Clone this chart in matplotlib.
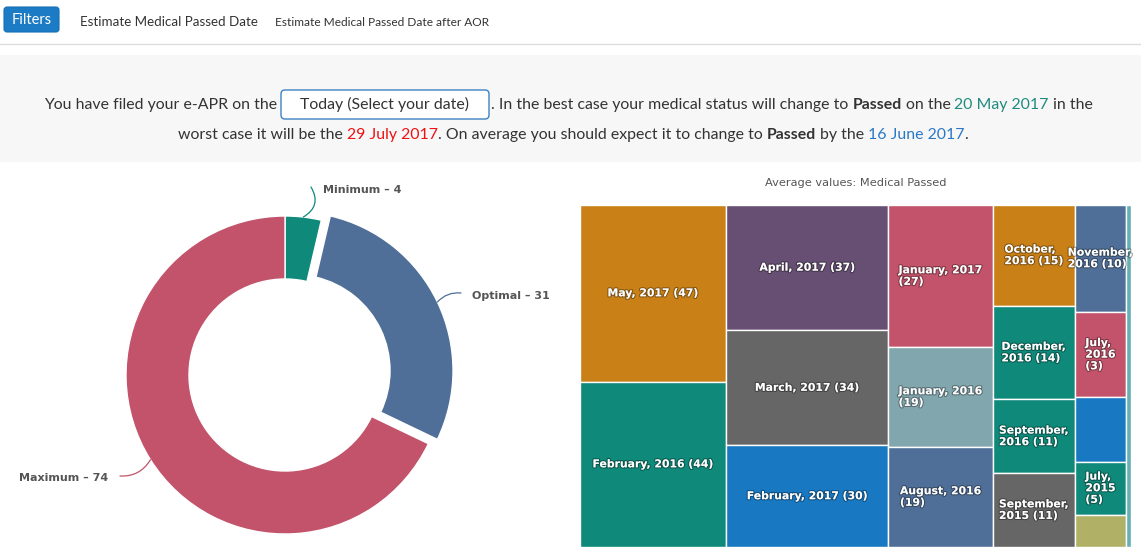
import matplotlib.pyplot as plt
from matplotlib.patches import Rectangle, FancyBboxPatch
import matplotlib.patheffects as pe
import numpy as np

W, H = 1141, 558

# donut: estimated days until medical passed
donut_labels = ['Minimum', 'Optimal', 'Maximum']
donut_values = [4, 31, 74]
donut_colors = ['#0e897a', '#4f6f98', '#c2536a']
donut_explode = [0, 10, 0]

# treemap: average values per month (text as shown on the tiles)
tm_labels = ['May, 2017 (47)', 'February, 2016 (44)',
             'April, 2017 (37)', 'March, 2017 (34)', 'February, 2017 (30)',
             'January, 2017\n(27)', 'January, 2016\n(19)', 'August, 2016\n(19)',
             'October,\n2016 (15)', 'December,\n2016 (14)', 'September,\n2016 (11)', 'September,\n2015 (11)',
             'November,\n2016 (10)', 'July,\n2016\n(3)', '', 'July,\n2015\n(5)', '',
             '']
tm_values = [47, 44,
             37, 34, 30,
             27, 19, 19,
             15, 14, 11, 11,
             10, 8, 6, 5, 3,
             3]
tm_colors = ['#c98016', '#0e897a',
             '#664f72', '#666666', '#1878c2',
             '#c2536a', '#82a6ae', '#4f6f98',
             '#c98016', '#0e897a', '#0e897a', '#666666',
             '#4f6f98', '#c2536a', '#1878c2', '#0e897a', '#b0b167',
             '#66b0b5']
tm_columns = [2, 3, 3, 4, 5, 1]   # how many tiles go in each column

TEXT_FONT = ['Lato', 'DejaVu Sans']
FS = 11.4


def Y(y):
    # page pixel rows are counted from the top
    return H - y


fig = plt.figure(figsize=(W / 100, H / 100), dpi=100)
ax = fig.add_axes([0, 0, 1, 1])

# --- donut ---
R = 159
cx, cy = 285, Y(375)
ax.pie(donut_values, colors=donut_colors, explode=donut_explode, startangle=90,
       counterclock=False, radius=R, center=(cx, cy),
       wedgeprops=dict(width=63, edgecolor='white', linewidth=1))
ax.set_xlim(0, W)
ax.set_ylim(0, H)
ax.set_aspect('auto')
ax.axis('off')

total = sum(donut_values)
cum = np.cumsum(donut_values)
label_pos = [(323, 190, 'left', (311, 187), -0.5),
             (472, 296, 'left', (461, 293), 0.25),
             (108, 478, 'right', (120, 476), 0.3)]
for i, name in enumerate(donut_labels):
    th = np.deg2rad(360 * (cum[i] - donut_values[i] / 2) / total)
    r = R + donut_explode[i]
    anchor = (cx + r * np.sin(th), cy + r * np.cos(th))
    tx, ty, ha, end, rad = label_pos[i]
    ax.annotate('', xy=anchor, xytext=(end[0], Y(end[1])),
                arrowprops=dict(arrowstyle='-', color=donut_colors[i], lw=0.9,
                                shrinkA=0, shrinkB=0,
                                connectionstyle='arc3,rad=%s' % rad))
    ax.text(tx, Y(ty), '%s \u2013 %d' % (name, donut_values[i]), ha=ha, va='center',
            fontsize=8, fontweight='bold', color='#555555', family='DejaVu Sans')

# --- page header ---
ax.add_patch(FancyBboxPatch((4, Y(32)), 55, 25, boxstyle='round,pad=0,rounding_size=3',
                            facecolor='#1b7bc5', edgecolor='#1670b5', lw=0.8))
ax.text(31.5, Y(20), 'Filters', ha='center', va='center', color='white',
        fontsize=10.5, family=TEXT_FONT)
ax.text(80, Y(22), 'Estimate Medical Passed Date', ha='left', va='center',
        color='#333333', fontsize=9.6, family=TEXT_FONT)
ax.text(275, Y(22), 'Estimate Medical Passed Date after AOR', ha='left', va='center',
        color='#333333', fontsize=8.6, family=TEXT_FONT)
ax.plot([0, W], [Y(44), Y(44)], color='#dddddd', lw=1)

# grey info band
ax.add_patch(Rectangle((0, Y(162)), W, 107, facecolor='#f7f7f7', edgecolor='none', zorder=0))

# date box
ax.add_patch(FancyBboxPatch((281, Y(119)), 208, 29, boxstyle='round,pad=0,rounding_size=4',
                            facecolor='white', edgecolor='#3b82c4', lw=1))
ax.text(385, Y(104), 'Today (Select your date)', ha='center', va='center',
        color='#333333', fontsize=FS, family=TEXT_FONT)


def chain(x, y, parts):
    # write text pieces one after the other on one baseline
    t = None
    for s, gap, kw in parts:
        style = dict(fontsize=FS, family=TEXT_FONT, color='#333333')
        style.update(kw)
        if t is None:
            t = ax.text(x, y, s, ha='left', va='baseline', **style)
        else:
            t = ax.annotate(s, xy=(1, 0), xycoords=t, xytext=(gap, 0),
                            textcoords='offset points', ha='left', va='bottom', **style)
    return t


SP = 2.9
ax.text(277, Y(109), 'You have filed your e-APR on the', ha='right', va='baseline',
        fontsize=FS, family=TEXT_FONT, color='#333333')
chain(491, Y(109), [
    ('. In the best case your medical status will change to', 0, {}),
    ('Passed', SP, dict(fontweight='bold')),
    ('on the', SP, {}),
    ('20 May 2017', SP, dict(color='#1f8b7e')),
    ('in the', SP, {}),
])
chain(178, Y(139), [
    ('worst case it will be the', 0, {}),
    ('29 July 2017', SP, dict(color='#ee1111')),
    ('. On average you should expect it to change to', 0, {}),
    ('Passed', SP, dict(fontweight='bold')),
    ('by the', SP, {}),
    ('16 June 2017', SP, dict(color='#2a78c5')),
    ('.', 0, {}),
])

# --- treemap ---
ax.text(856, Y(183), 'Average values: Medical Passed', ha='center', va='center',
        fontsize=8.2, color='#555555', family='DejaVu Sans')

tax = fig.add_axes([580 / W, 1 - 547 / H, 551 / W, 342 / H])
tm_total = sum(tm_values)
tax.set_xlim(0, tm_total)
tax.set_ylim(1, 0)
tax.axis('off')

outline = [pe.withStroke(linewidth=1.6, foreground=(0, 0, 0, 0.35))]
i = 0
x0 = 0
for n in tm_columns:
    vals = tm_values[i:i + n]
    col = sum(vals)
    y0 = 0
    for k in range(n):
        h = vals[k] / col
        tax.add_patch(Rectangle((x0, y0), col, h, facecolor=tm_colors[i + k],
                                edgecolor='white', lw=1))
        if tm_labels[i + k]:
            tax.text(x0 + col / 2, y0 + h / 2, tm_labels[i + k], ha='center', va='center',
                     multialignment='left', color='white', fontsize=7.8, fontweight='bold',
                     family='DejaVu Sans', path_effects=outline, clip_on=False)
        y0 += h
    x0 += col
    i += n

fig.savefig('out.png', dpi=100, facecolor='white')
